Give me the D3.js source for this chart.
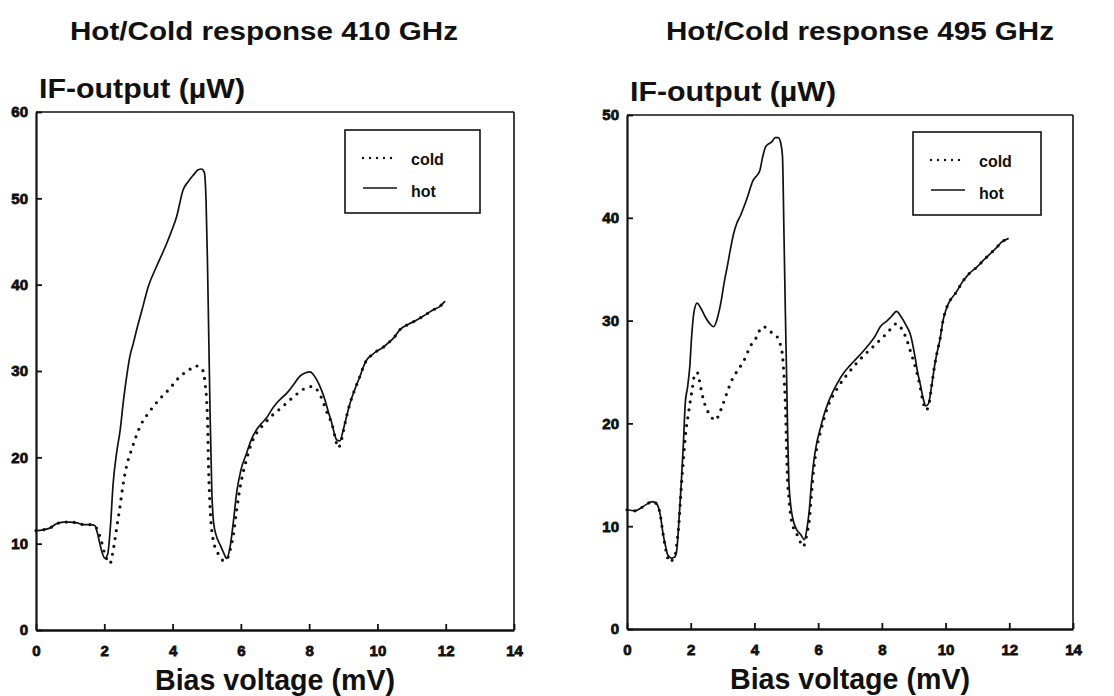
<!DOCTYPE html>
<html>
<head>
<meta charset="utf-8">
<script src="https://cdn.jsdelivr.net/npm/d3@7/dist/d3.min.js"></script>
<style>
  html, body { margin: 0; padding: 0; background: #fff; }
  svg { display: block; }
  text { font-family: "Liberation Sans", Arial, Helvetica, sans-serif; font-weight: bold; fill: #111; }
</style>
</head>
<body>
<svg id="chart" width="1114" height="696"></svg>
<script>
// ---------- Data ----------
const chartTitles = ["Hot/Cold response 410 GHz", "Hot/Cold response 495 GHz"];
const yAxisLabel = "IF-output (\u00b5W)";
const xAxisLabel = "Bias voltage (mV)";
const seriesNames = ["cold", "hot"];
const xTicks = [0, 2, 4, 6, 8, 10, 12, 14];
const yTicks410 = [0, 10, 20, 30, 40, 50, 60];
const yTicks495 = [0, 10, 20, 30, 40, 50];

// 410 GHz – hot
const bias410Hot = [0,0.2,0.4,0.6,0.8,1.0,1.2,1.4,1.6,1.72,1.8,1.87,1.95,2.02,2.1,2.18,2.26,2.36,2.46,2.56,2.66,2.75,2.85,2.95,3.1,3.29,3.53,3.7,3.83,3.95,4.12,4.31,4.45,4.61,4.75,4.85,4.93,4.98,5.02,5.05,5.1,5.15,5.2,5.29,5.4,5.5,5.58,5.68,5.78,5.88,6.0,6.17,6.3,6.46,6.6,6.76,6.9,7.05,7.2,7.34,7.54,7.73,7.9,8.03,8.12,8.22,8.35,8.46,8.56,8.66,8.75,8.81,8.9,9.0,9.1,9.2,9.35,9.49,9.6,9.69,9.85,9.98,10.15,10.3,10.47,10.66,10.9,11.15,11.4,11.64,11.8,11.98];
const if410Hot   = [11.5,11.6,11.8,12.3,12.5,12.5,12.4,12.2,12.2,12.1,11.2,10.0,8.8,8.3,8.8,12.0,17.0,20.5,23.0,26.5,29.5,31.7,33.2,34.8,37.0,39.8,42.1,43.6,44.8,46.0,47.9,51.0,51.9,52.7,53.3,53.4,53.0,49.8,43.0,36.3,24.7,16.0,12.5,10.8,9.8,8.9,8.3,9.5,12.5,16.0,18.5,20.5,22.0,23.2,23.9,24.6,25.5,26.3,26.9,27.4,28.4,29.4,29.8,29.9,29.6,29.0,27.9,26.7,25.3,24.0,22.6,22.0,21.9,23.2,24.8,26.3,28.0,29.4,30.6,31.3,31.9,32.3,32.7,33.2,33.8,34.8,35.4,35.9,36.5,37.1,37.4,38.1];
// 410 GHz – cold
const bias410Cold = [0,0.2,0.4,0.6,0.8,1.0,1.2,1.4,1.6,1.72,1.8,1.9,2.0,2.1,2.17,2.24,2.31,2.38,2.46,2.53,2.61,2.7,2.8,2.92,3.05,3.25,3.44,3.63,3.83,4.03,4.22,4.45,4.66,4.78,4.85,4.92,4.96,5.0,5.03,5.05,5.08,5.12,5.19,5.28,5.39,5.5,5.58,5.68,5.78,5.88,6.0,6.17,6.3,6.46,6.6,6.76,6.9,7.05,7.2,7.34,7.54,7.73,7.93,8.1,8.3,8.45,8.56,8.66,8.75,8.85,8.92,9.0,9.1,9.2,9.35,9.49,9.6,9.69,9.85,9.98,10.15,10.3,10.47,10.66,10.9,11.15,11.4,11.64,11.8,11.98];
const if410Cold   = [11.5,11.6,11.8,12.3,12.5,12.5,12.4,12.2,12.2,12.1,11.6,10.5,9.0,8.0,7.7,8.8,10.4,12.3,14.3,16.3,18.2,19.7,20.9,22.3,23.6,24.9,25.9,26.8,27.6,28.5,29.4,30.0,30.6,30.5,30.3,29.6,28.3,26.5,23.5,19.5,15.8,12.8,10.4,9.3,8.5,8.0,8.1,9.2,11.0,14.0,17.0,19.8,21.5,22.8,23.5,24.2,24.8,25.3,25.8,26.3,27.0,27.6,28.1,28.2,27.4,26.0,24.8,24.0,22.5,21.1,21.6,23.0,24.8,26.3,28.0,29.4,30.6,31.3,31.9,32.3,32.7,33.2,33.8,34.8,35.4,35.9,36.5,37.1,37.4,38.1];

// 495 GHz – hot
const bias495Hot = [0,0.25,0.45,0.6,0.8,0.95,1.05,1.12,1.2,1.28,1.4,1.5,1.56,1.62,1.7,1.77,1.83,1.9,1.97,2.03,2.1,2.2,2.3,2.45,2.6,2.72,2.85,2.95,3.05,3.15,3.25,3.35,3.45,3.56,3.65,3.8,3.95,4.1,4.17,4.25,4.35,4.45,4.55,4.65,4.75,4.83,4.88,4.93,4.97,5.01,5.05,5.08,5.13,5.2,5.32,5.45,5.57,5.65,5.72,5.8,5.86,5.95,6.06,6.18,6.3,6.45,6.6,6.8,6.99,7.2,7.38,7.6,7.77,7.95,8.17,8.3,8.46,8.6,8.75,8.9,9.04,9.12,9.2,9.3,9.38,9.46,9.56,9.65,9.72,9.82,9.92,10.04,10.15,10.3,10.56,10.75,10.98,11.2,11.4,11.6,11.75,11.98];
const if495Hot   = [11.6,11.5,11.8,12.1,12.4,12.1,11.0,9.5,8.2,7.2,6.9,7.0,7.6,10.0,14.0,18.0,22.0,23.5,25.5,28.5,30.8,31.7,31.3,30.4,29.7,29.4,30.4,31.8,33.7,35.3,37.0,38.5,39.5,40.2,40.9,42.2,43.6,44.2,44.6,45.8,46.9,47.2,47.4,47.8,47.8,47.2,46.0,38.0,31.0,24.6,18.0,14.5,12.3,10.8,9.7,9.2,8.7,9.8,11.5,14.5,16.2,18.0,19.4,20.8,21.9,23.0,23.9,24.9,25.6,26.3,26.9,27.7,28.4,29.4,30.0,30.4,30.9,30.4,29.6,28.6,26.5,25.0,23.9,22.4,21.7,21.9,23.6,25.5,26.7,28.1,30.0,31.3,32.0,32.6,33.9,34.6,35.2,35.9,36.5,37.1,37.6,38.0];
// 495 GHz – cold
const bias495Cold = [0,0.25,0.45,0.6,0.8,0.95,1.05,1.12,1.2,1.28,1.36,1.44,1.52,1.57,1.62,1.67,1.72,1.78,1.83,1.93,2.04,2.14,2.22,2.3,2.4,2.5,2.61,2.77,2.88,2.98,3.13,3.26,3.34,3.55,3.7,3.87,4.05,4.25,4.39,4.55,4.74,4.82,4.88,4.93,4.98,5.01,5.04,5.08,5.13,5.22,5.32,5.42,5.52,5.58,5.65,5.72,5.8,5.86,5.95,6.06,6.3,6.6,7.0,7.4,7.77,8.17,8.46,8.6,8.75,8.9,9.05,9.2,9.3,9.38,9.46,9.56,9.65,9.72,9.82,9.92,10.04,10.15,10.3,10.56,10.75,10.98,11.2,11.4,11.6,11.75,11.98];
const if495Cold   = [11.6,11.5,11.8,12.1,12.4,12.1,11.0,9.5,8.0,6.9,6.5,6.8,7.3,8.5,9.9,12.2,14.5,16.8,18.7,21.0,23.2,24.9,24.9,23.7,22.3,21.4,20.8,20.3,20.8,21.6,22.9,24.0,24.5,25.5,26.3,27.5,28.3,29.4,29.3,28.8,28.3,27.6,26.6,24.5,21.2,17.5,14.5,12.8,11.2,9.9,9.3,8.6,8.0,8.3,9.3,10.5,13.5,15.5,17.5,19.0,21.6,23.4,25.1,26.5,27.6,28.8,29.7,29.3,28.4,27.0,25.5,23.6,22.0,21.3,21.6,23.6,25.5,26.7,28.1,30.0,31.3,32.0,32.6,33.9,34.6,35.2,35.9,36.5,37.1,37.6,38.0];

// ---------- Layout ----------
const panels = [
  { title: chartTitles[0], titleX: 264, x0: 36, x1: 514, y0: 630, y1: 112, yMax: 60, yTicks: yTicks410,
    cold: [bias410Cold, if410Cold], hot: [bias410Hot, if410Hot],
    legend: { x: 345, y: 130, w: 135, h: 83 } },
  { title: chartTitles[1], titleX: 860, x0: 627, x1: 1073, y0: 629, y1: 115, yMax: 50, yTicks: yTicks495,
    cold: [bias495Cold, if495Cold], hot: [bias495Hot, if495Hot],
    legend: { x: 913, y: 132, w: 128, h: 83 } }
];

const svg = d3.select("#chart");

panels.forEach(p => {
  const x = d3.scaleLinear().domain([0, 14]).range([p.x0, p.x1]);
  const y = d3.scaleLinear().domain([0, p.yMax]).range([p.y0, p.y1]);
  const g = svg.append("g");

  // title
  g.append("text").attr("x", p.titleX).attr("y", 40).attr("text-anchor", "middle")
    .attr("font-size", 26).attr("textLength", 388).attr("lengthAdjust", "spacingAndGlyphs")
    .text(p.title);

  // frame (top & right)
  g.append("line").attr("x1", p.x0).attr("x2", p.x1).attr("y1", p.y1).attr("y2", p.y1)
    .attr("stroke", "#111").attr("stroke-width", 1.6);
  g.append("line").attr("x1", p.x1).attr("x2", p.x1).attr("y1", p.y1).attr("y2", p.y0)
    .attr("stroke", "#111").attr("stroke-width", 1.6);

  // axes
  const xAxis = d3.axisBottom(x).tickValues(xTicks).tickSizeInner(-6).tickSizeOuter(0).tickPadding(15)
    .tickFormat(d3.format("d"));
  const gx = g.append("g").attr("transform", `translate(0,${p.y0})`).call(xAxis);
  const yAxis = d3.axisLeft(y).tickValues(p.yTicks).tickSizeInner(-6).tickSizeOuter(0).tickPadding(8)
    .tickFormat(d3.format("d"));
  const gy = g.append("g").attr("transform", `translate(${p.x0},0)`).call(yAxis);

  [gx, gy].forEach(ax => {
    ax.select(".domain").attr("stroke", "#111").attr("stroke-width", 2.2);
    ax.selectAll(".tick line").attr("stroke", "#111").attr("stroke-width", 1.8);
    ax.selectAll(".tick text").attr("font-size", 15).attr("fill", "#111")
      .attr("stroke", "#111").attr("stroke-width", 0.8)
      .style("font-family", '"Liberation Sans", Arial, sans-serif').style("font-weight", "bold");
  });
  gx.select(".domain").attr("stroke-width", 2.6);

  // axis labels
  g.append("text").attr("x", p.x0 + 3).attr("y", p.y1 - 14).attr("font-size", 28)
    .attr("textLength", 206).attr("lengthAdjust", "spacingAndGlyphs").text(yAxisLabel);
  g.append("text").attr("x", (p.x0 + p.x1) / 2).attr("y", p.y0 + 60).attr("text-anchor", "middle")
    .attr("font-size", 29).attr("textLength", 240).attr("lengthAdjust", "spacingAndGlyphs").text(xAxisLabel);

  // curves
  const line = d3.line().x(d => x(d[0])).y(d => y(d[1])).curve(d3.curveMonotoneX);
  const coldData = p.cold[0].map((v, i) => [v, p.cold[1][i]]);
  const hotData = p.hot[0].map((v, i) => [v, p.hot[1][i]]);

  g.append("path").datum(coldData).attr("d", line).attr("fill", "none")
    .attr("stroke", "#111").attr("stroke-width", 3.2).attr("stroke-linecap", "round")
    .attr("stroke-dasharray", "0,8");
  g.append("path").datum(hotData).attr("d", line).attr("fill", "none")
    .attr("stroke", "#111").attr("stroke-width", 1.7).attr("stroke-linejoin", "round");

  // legend
  const L = p.legend;
  const lg = g.append("g").attr("transform", `translate(${L.x},${L.y})`);
  lg.append("rect").attr("width", L.w).attr("height", L.h).attr("fill", "#fff")
    .attr("stroke", "#111").attr("stroke-width", 1.6);
  lg.append("line").attr("x1", 18).attr("x2", 52).attr("y1", 28).attr("y2", 28)
    .attr("stroke", "#111").attr("stroke-width", 2.4).attr("stroke-linecap", "round")
    .attr("stroke-dasharray", "0,7");
  lg.append("line").attr("x1", 18).attr("x2", 52).attr("y1", 58).attr("y2", 58)
    .attr("stroke", "#111").attr("stroke-width", 1.6);
  lg.append("text").attr("x", 66).attr("y", 35).attr("font-size", 16).text(seriesNames[0]);
  lg.append("text").attr("x", 66).attr("y", 67).attr("font-size", 16).text(seriesNames[1]);
});
</script>
</body>
</html>
